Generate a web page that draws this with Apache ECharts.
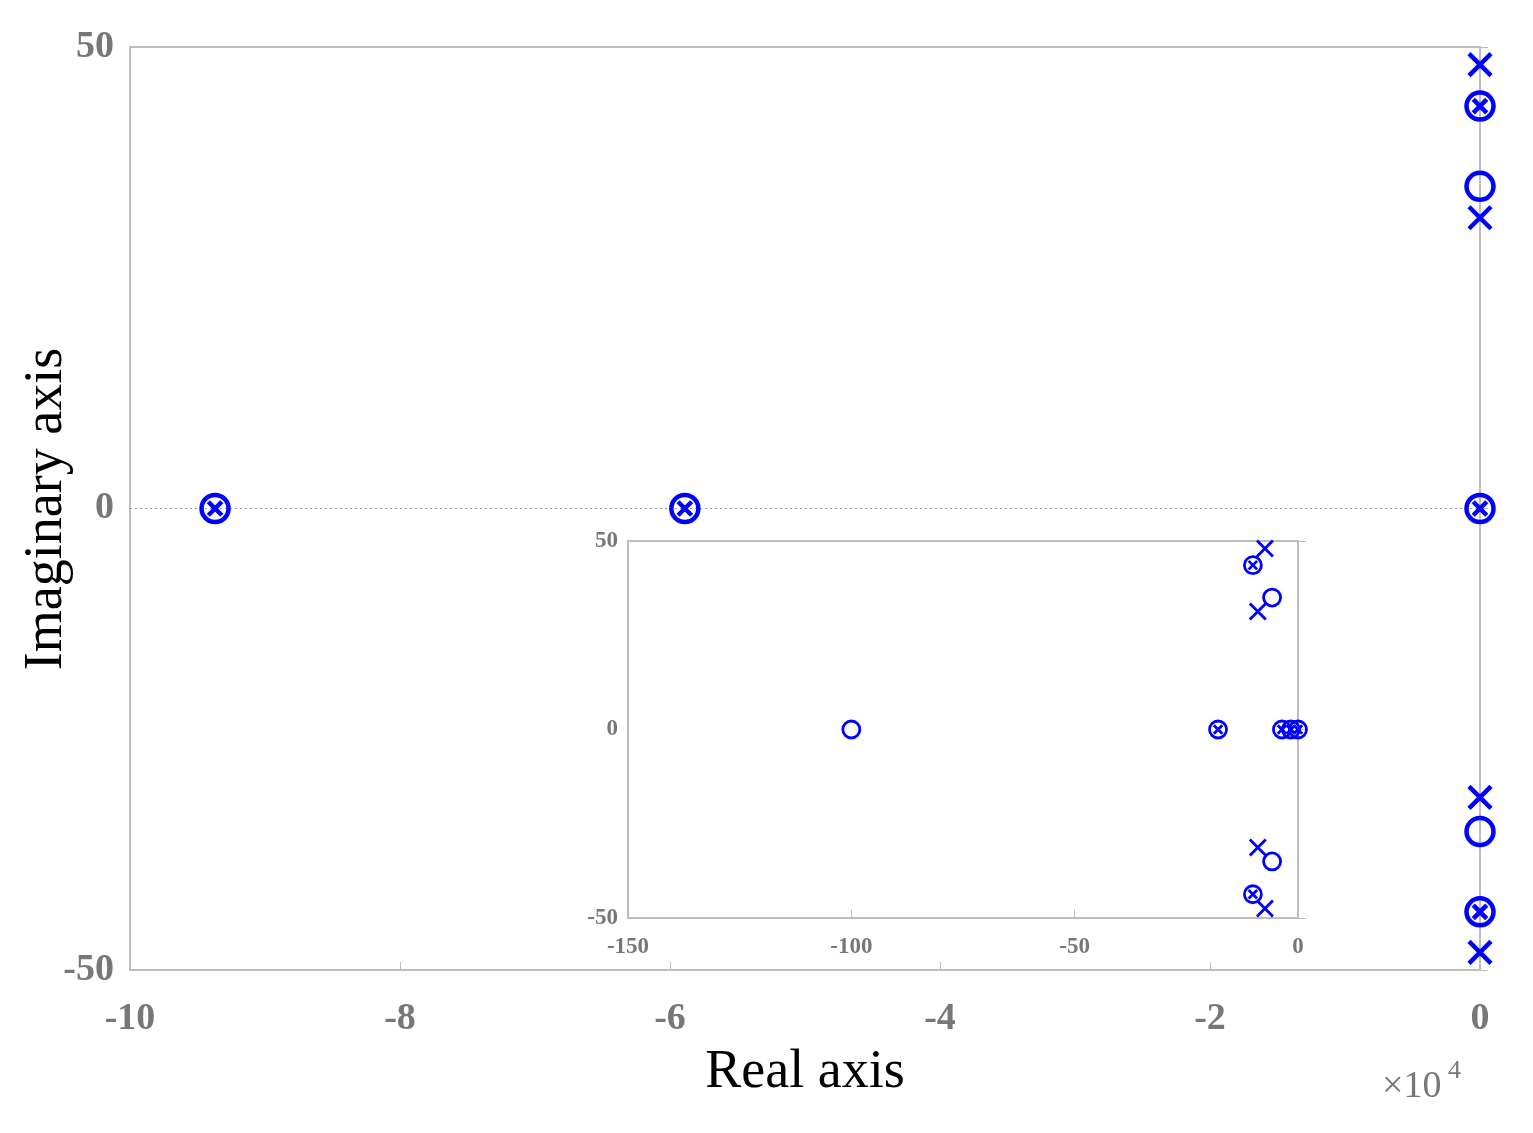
<!DOCTYPE html>
<html>
<head>
<meta charset="utf-8">
<script src="https://cdn.jsdelivr.net/npm/echarts@6/dist/echarts.min.js"></script>
<style>html,body{margin:0;background:#fff}#main{width:1533px;height:1133px}</style>
</head>
<body>
<div id="main"></div>
<script>
// main plot, real part in units of 1e4
const mainPoles = [[0, 48.1], [0, 31.5], [0, -31.3], [0, -48.1]];
const mainZeros = [[0, 34.9], [0, -35.0]];
const mainBoth = [[-9.37, 0], [-5.89, 0], [0, 43.6], [0, 0], [0, -43.7]];
// inset zoom near the origin
const insetPoles = [[-7.4, 48], [-9, 31.3], [-9, -31.3], [-7.4, -47.5]];
const insetZeros = [[-5.8, 35], [-100, 0], [-5.8, -35]];
const insetBoth = [[-10.1, 43.6], [-17.9, 0], [-3.6, 0], [-1.6, 0], [0, 0], [-10.1, -43.7]];

const blue = '#0000ff';
const gray = '#bdbdbd';
const cross = 'path://M0,0L10,10M10,0L0,10';
const font = 'Liberation Serif';

function axisX(gi, min, max, interval, size, margin) {
  return {
    gridIndex: gi, type: 'value', min: min, max: max, interval: interval,
    axisLine: { onZero: false, lineStyle: { color: gray, width: 2 } },
    axisTick: { inside: true, length: 8, lineStyle: { color: gray } },
    axisLabel: { color: '#777', fontFamily: font, fontWeight: 'bold', fontSize: size, margin: margin },
    splitLine: { show: false }
  };
}
function axisY(gi, min, max, interval, size, margin) {
  return {
    gridIndex: gi, type: 'value', min: min, max: max, interval: interval,
    axisLine: { lineStyle: { color: gray, width: 2 } },
    axisTick: { inside: true, length: 8, lineStyle: { color: gray } },
    axisLabel: { color: '#777', fontFamily: font, fontWeight: 'bold', fontSize: size, margin: margin },
    splitLine: { show: false }
  };
}
function sets(gi, poles, zeros, both, big) {
  const r = big ? 27 : 17, c = big ? 22 : 16, w = big ? 4.5 : 2.8;
  const ax = { xAxisIndex: gi, yAxisIndex: gi, type: 'scatter', silent: true, z: 5 };
  const st = { color: 'none', borderColor: blue, borderWidth: w, opacity: 1 };
  return [
    Object.assign({}, ax, { data: poles, symbol: cross, symbolSize: c, itemStyle: st }),
    Object.assign({}, ax, { data: zeros, symbol: 'circle', symbolSize: r, itemStyle: st }),
    Object.assign({}, ax, { data: both, symbol: 'circle', symbolSize: r, itemStyle: st }),
    Object.assign({}, ax, { data: both, symbol: cross, symbolSize: r * 0.5, itemStyle: st })
  ];
}
function zeroLine(gi, min, max) {
  return {
    type: 'line', xAxisIndex: gi, yAxisIndex: gi, data: [[min, 0], [max, 0]], symbol: 'none', silent: true, z: 1,
    lineStyle: { color: '#999', width: 1, type: [2, 3] }
  };
}

const chart = echarts.init(document.getElementById('main'));
chart.setOption({
  animation: false,
  grid: [
    { left: 130, top: 47, width: 1350, height: 923, show: true, borderColor: gray, borderWidth: 2, outerBoundsMode: 'none', containLabel: false },
    { left: 628, top: 541, width: 670, height: 377, show: true, backgroundColor: '#fff', borderColor: gray, borderWidth: 2, z: 3, outerBoundsMode: 'none', containLabel: false }
  ],
  xAxis: [
    Object.assign(axisX(0, -10, 0, 2, 38, 30), { name: 'Real axis', nameLocation: 'middle', nameGap: 76,
      nameTextStyle: { fontFamily: font, fontSize: 54, color: '#000' } }),
    Object.assign(axisX(1, -150, 0, 50, 23, 18), { z: 4 })
  ],
  yAxis: [
    axisY(0, -50, 50, 50, 38, 16),
    Object.assign(axisY(1, -50, 50, 50, 23, 10), { z: 4 })
  ],
  graphic: [
    { type: 'text', x: 47, y: 509, rotation: Math.PI / 2, z: 10,
      style: { text: 'Imaginary axis', fontFamily: font, fontSize: 54, fill: '#000', align: 'center', verticalAlign: 'middle' } },
    { type: 'text', left: 1382, top: 1068, z: 10,
      style: { text: '×10', fontFamily: font, fontSize: 38, fill: '#777' } },
    { type: 'text', left: 1448, top: 1058, z: 10,
      style: { text: '4', fontFamily: font, fontSize: 26, fill: '#777' } }
  ],
  series: [zeroLine(0, -10, 0), zeroLine(1, -150, 0)]
    .concat(sets(0, mainPoles, mainZeros, mainBoth, true))
    .concat(sets(1, insetPoles, insetZeros, insetBoth, false).map(s => Object.assign(s, { z: 6 })))
});
</script>
</body>
</html>
